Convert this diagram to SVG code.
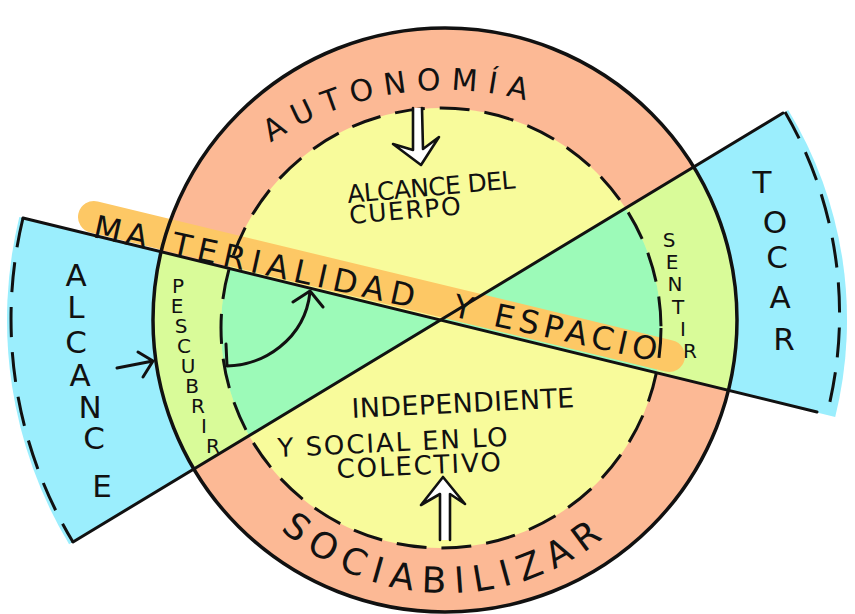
<svg xmlns="http://www.w3.org/2000/svg" width="855" height="614" viewBox="0 0 855 614">
<defs>
<style>
.t{font-family:"DejaVu Sans","Liberation Sans",sans-serif;fill:#111;}
.ln{fill:none;stroke:#111;stroke-width:3;stroke-linecap:round;stroke-linejoin:round;}
.dash{fill:none;stroke:#111;stroke-width:3;stroke-dasharray:30 15;}
.hollow{fill:#fff;stroke:#111;stroke-width:2.6;stroke-linejoin:round;stroke-linecap:round;}
.big{font-size:31px;text-anchor:middle;}
.small{font-size:20px;text-anchor:middle;}
</style>
<clipPath id="outerClip"><circle cx="445" cy="320" r="292"/></clipPath>
<clipPath id="innerClip"><circle cx="441" cy="328" r="220"/></clipPath>
<path id="pAuto" d="M270.8,142.8 A314,314 0 0,1 552.4,108.9"/>
<path id="pSoc" d="M280.4,529.4 A250,250 0 0,0 614.3,528.8"/>
</defs>
<rect width="855" height="614" fill="#fff"/>
<g id="regions">
<path d="M443,320 L19.3,217.1 A436,436 0 0,0 69.1,544.3 Z" fill="#9BEEFD"/>
<path d="M443,320 L788.2,110 A404,404 0 0,1 835.2,417 Z" fill="#9BEEFD"/>
<circle cx="445" cy="320" r="292" fill="#FCB995"/>
<path clip-path="url(#outerClip)" d="M443,320 L23,218 L73,542 Z M443,320 L785,112 L831,416 Z" fill="#D9FB99"/>
<circle cx="441" cy="328" r="220" fill="#F8FB9B"/>
<path clip-path="url(#innerClip)" d="M443,320 L23,218 L73,542 Z M443,320 L785,112 L831,416 Z" fill="#9CFAB8"/>
</g>
<g id="band">
<path d="M94,217 L669,356" stroke="#FDC865" stroke-width="32" stroke-linecap="round" fill="none"/>
</g>
<g id="connectors">
<circle cx="445" cy="320" r="292" fill="none" stroke="#111" stroke-width="3.5"/>
<circle cx="441" cy="328" r="220" class="dash" stroke-dasharray="20 11"/>
<path class="ln" d="M23,218 L817,412"/>
<path class="ln" d="M73,542 L783,113"/>
<path class="dash" d="M23,218 A432,432 0 0,0 73,542"/>
<path class="dash" d="M785,112 A402,402 0 0,1 827,414"/>
<path class="ln" d="M117,368 L153,361 M138,352 L153,361 L143,377"/>
<path class="ln" d="M226,344 L227,366 C262,366 305,340 310,292 M293,302 L310,291 L323,307"/>
<path class="hollow" d="M413,108 L413,150 L393,144 L421,165 L439,137 L423,149 L422,108"/>
<path class="hollow" d="M440,540 L440,494 L421,505 L443,477 L465,504 L450,494 L450,540"/>
</g>
<g id="autonomia">
<text class="t" font-size="30" letter-spacing="10"><textPath href="#pAuto">AUTONOMÍA</textPath></text>
</g>
<g id="sociabilizar">
<text class="t" font-size="36" letter-spacing="9"><textPath href="#pSoc">SOCIABILIZAR</textPath></text>
</g>
<g id="materialidad">
<text class="t" font-size="32" transform="translate(92,237) rotate(12.45)"><tspan x="0" letter-spacing="5">MA</tspan><tspan x="80" letter-spacing="6.3">TERIALIDAD</tspan><tspan x="358"> Y </tspan><tspan x="410" letter-spacing="5">ESPACIO</tspan></text>
</g>
<g id="alcance">
<text class="t big" x="76" y="286">A</text>
<text class="t big" x="76" y="318">L</text>
<text class="t big" x="76" y="353">C</text>
<text class="t big" x="80" y="386">A</text>
<text class="t big" x="90" y="418">N</text>
<text class="t big" x="94" y="449">C</text>
<text class="t big" x="102" y="497">E</text>
</g>
<g id="tocar">
<text class="t big" x="762" y="193">T</text>
<text class="t big" x="775" y="233">O</text>
<text class="t big" x="777" y="268">C</text>
<text class="t big" x="780" y="308">A</text>
<text class="t big" x="784" y="350">R</text>
</g>
<g id="descubrir">
<text class="t small" x="178" y="293">P</text>
<text class="t small" x="177" y="313">E</text>
<text class="t small" x="181" y="333">S</text>
<text class="t small" x="184" y="353">C</text>
<text class="t small" x="188" y="373">U</text>
<text class="t small" x="192" y="393">B</text>
<text class="t small" x="198" y="413">R</text>
<text class="t small" x="204" y="433">I</text>
<text class="t small" x="213" y="453">R</text>
</g>
<g id="sentir">
<text class="t small" x="669" y="247">S</text>
<text class="t small" x="672" y="269">E</text>
<text class="t small" x="675" y="291">N</text>
<text class="t small" x="678" y="314">T</text>
<text class="t small" x="683" y="336">I</text>
<text class="t small" x="690" y="358">R</text>
</g>
<g id="alcance-cuerpo">
<text class="t" font-size="25" transform="translate(348,203) rotate(-5)" letter-spacing="-0.6">ALCANCE DEL</text>
<text class="t" font-size="25" transform="translate(350,224) rotate(-5)" letter-spacing="1.6">CUERPO</text>
</g>
<g id="independiente">
<text class="t" font-size="27" transform="translate(352,418) rotate(-2.8)" letter-spacing="0.3">INDEPENDIENTE</text>
<text class="t" font-size="26" transform="translate(278,457) rotate(-2.8)" letter-spacing="1.9">Y SOCIAL EN LO</text>
<text class="t" font-size="26" transform="translate(337,478) rotate(-2.5)" letter-spacing="1.9">COLECTIVO</text>
</g>
</svg>
